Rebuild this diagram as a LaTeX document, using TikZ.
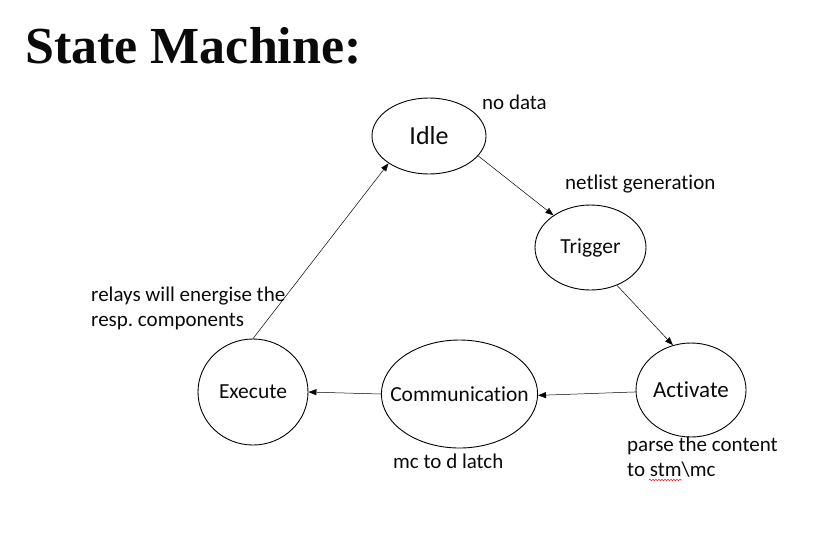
\documentclass[tikz,border=0pt]{standalone}
\usepackage{fontspec}
\setmainfont[Ligatures=NoCommon]{Carlito}
\newfontfamily\titlefont{Liberation Serif}
\frenchspacing
\usetikzlibrary{
    arrows.meta,
    shapes.geometric,
    decorations.pathmorphing
}
\tikzset{
  state/.style  = {draw, ellipse, line width=0.9pt, inner sep=0pt,
                   font=\fontsize{21.5}{25}\selectfont},
  note/.style   = {anchor=base west, inner sep=0pt, align=left,
                   font=\fontsize{21}{25}\selectfont},
  arr/.style    = {-{Triangle[length=8pt,width=6pt]}, line width=0.5pt}
}
\definecolor{InkBlack}{RGB}{10,10,10}
\definecolor{SpellRed}{RGB}{220,40,40}

\begin{document}
\begin{tikzpicture}[x=1pt, y=-1pt, text=InkBlack]
\useasboundingbox (0,0) rectangle (826,542);
\node[anchor=base west, inner sep=0pt, font=\titlefont\bfseries\fontsize{52}{60}\selectfont] (title) at (25,63) {State Machine:};
% states
\node[state, minimum width=114pt, minimum height=76pt, font=\fontsize{26}{30}\selectfont] (idle) at (429,136) {Idle};
\node[state, minimum width=111pt, minimum height=85pt] (trigger) at (590.5,247.5) {Trigger};
\node[state, minimum width=110pt, minimum height=94pt, inner xsep=-4pt, font=\fontsize{23}{28}\selectfont] (activate) at (691,390) {Activate};
\node[state, minimum width=153pt, minimum height=108pt, inner xsep=-14pt] (comm) at (459.5,394) {Communication};
\node[state, minimum width=110pt, minimum height=106pt] (execute) at (253,392) {Execute};
% notes
\node[note] (nodata) at (482,109) {no data};
\node[note] (netlist) at (565,189) {netlist generation};
\node[note] (relays) at (91,326) {relays will energise the\\resp. components};
\node[note] (latch) at (393,468) {mc to d latch};
\node[note] (parse) at (627,476) {parse the content\\to stm\textbackslash mc};
\draw[SpellRed, line width=0.6pt, decorate, decoration={snake, amplitude=0.8pt, segment length=3pt}] (649,480) -- (682,480);
% transitions
\draw[arr] (idle.-22) -- (trigger.139);
\draw[arr] (trigger.-55) -- (activate.112);
\draw[arr] (activate.182) -- (comm.-1);
\draw[arr] (comm.west) -- (execute.east);
\draw[arr] (execute.north) -- (idle.-146);
\end{tikzpicture}
\end{document}
